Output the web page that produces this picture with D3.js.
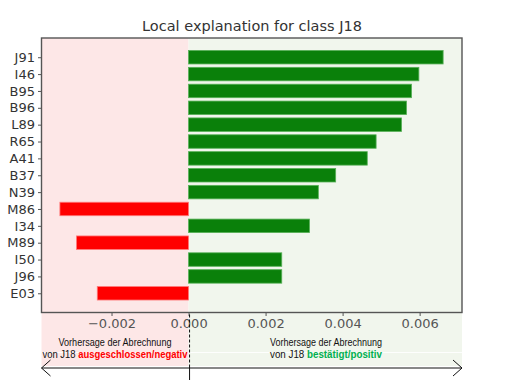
<!DOCTYPE html>
<html>
<head>
<meta charset="utf-8">
<script src="https://cdn.jsdelivr.net/npm/d3@7"></script>
<style>
  html, body { margin: 0; padding: 0; background: #ffffff; }
  svg { display: block; }
</style>
</head>
<body>
<div id="chart"></div>
<script>
// ---- data ----
const features = ["J91","I46","B95","B96","L89","R65","A41","B37","N39","M86","I34","M89","I50","J96","E03"];
const values   = [0.00661,0.00598,0.00579,0.00566,0.00553,0.00487,0.00464,0.00382,0.00337,-0.00334,0.00314,-0.00291,0.00242,0.00242,-0.00237];
const xTicks   = [-0.002, 0.000, 0.002, 0.004, 0.006];
const titleText = "Local explanation for class J18";
const leftLine1 = "Vorhersage der Abrechnung";
const leftLine2a = "von J18 ";
const leftLine2b = "ausgeschlossen/negativ";
const rightLine1 = "Vorhersage der Abrechnung";
const rightLine2a = "von J18 ";
const rightLine2b = "bestätigt/positiv";

// ---- layout ----
const W = 505, H = 380;
const frame = {left: 41.5, right: 462, top: 38, bottom: 312.5};

const svg = d3.select("#chart").append("svg")
  .attr("width", W).attr("height", H)
  .attr("font-family", "DejaVu Sans, sans-serif");

const x = d3.scaleLinear().domain([-0.003818, 0.0071]).range([frame.left, frame.right]);
const y = d3.scaleLinear().domain([-1.14, features.length - 1 + 1.14]).range([frame.top, frame.bottom]);

const x0 = x(0);
const bgBottom = 366;

// background regions
svg.append("rect").attr("x", frame.left).attr("y", frame.top)
  .attr("width", x0 - frame.left).attr("height", bgBottom - frame.top)
  .attr("fill", "#fde7e7");
svg.append("rect").attr("x", x0).attr("y", frame.top)
  .attr("width", frame.right - x0).attr("height", bgBottom - frame.top)
  .attr("fill", "#f1f6ed");
svg.append("line").attr("x1", frame.left).attr("x2", frame.right)
  .attr("y1", 352.5).attr("y2", 352.5)
  .attr("stroke", "#ffffff").attr("stroke-width", 1).attr("opacity", 0.9);

// bars
svg.append("g").selectAll("rect").data(values).join("rect")
  .attr("x", d => Math.min(x(0), x(d)))
  .attr("width", d => Math.abs(x(d) - x(0)))
  .attr("y", (d, i) => y(i - 0.4))
  .attr("height", (d, i) => y(i + 0.4) - y(i - 0.4))
  .attr("fill", d => d >= 0 ? "#0a800a" : "#ff0000")
  .attr("stroke", d => d >= 0 ? "#58b058" : "#ff7a7a")
  .attr("stroke-width", 0.8);

// frame
svg.append("rect").attr("x", frame.left).attr("y", frame.top)
  .attr("width", frame.right - frame.left).attr("height", frame.bottom - frame.top)
  .attr("fill", "none").attr("stroke", "#555").attr("stroke-width", 1.4);

// y axis
const yAxis = svg.append("g").attr("transform", `translate(${frame.left},0)`)
  .call(d3.axisLeft(y).tickValues(d3.range(features.length)).tickFormat(i => features[i]).tickSize(3.5).tickPadding(3));
yAxis.select(".domain").remove();
yAxis.selectAll("line").attr("stroke", "#555");
yAxis.selectAll("text").attr("font-size", 13).attr("fill", "#333").attr("font-family", "DejaVu Sans, sans-serif");

// x axis
const xAxis = svg.append("g").attr("transform", `translate(0,${frame.bottom})`)
  .call(d3.axisBottom(x).tickValues(xTicks).tickFormat(d3.format(".3f")).tickSize(3.5).tickPadding(3));
xAxis.select(".domain").remove();
xAxis.selectAll("line").attr("stroke", "#555");
xAxis.selectAll("text").attr("font-size", 13).attr("fill", "#555").attr("font-family", "DejaVu Sans, sans-serif");

// title
svg.append("text").attr("x", 252).attr("y", 31)
  .attr("text-anchor", "middle").attr("font-size", 14.5).attr("fill", "#333")
  .text(titleText);

// annotations
const annFont = "Liberation Sans, Arial, sans-serif";
function annot(cx, l1, l2a, l2b, color, w1, w2) {
  svg.append("text").attr("x", cx).attr("y", 345.5).attr("text-anchor", "middle")
    .attr("font-family", annFont).attr("font-size", 10.3).attr("fill", "#111")
    .attr("textLength", w1).attr("lengthAdjust", "spacingAndGlyphs")
    .text(l1);
  const t = svg.append("text").attr("x", cx).attr("y", 357.8).attr("text-anchor", "middle")
    .attr("font-family", annFont).attr("font-size", 10.3).attr("fill", "#111")
    .attr("textLength", w2).attr("lengthAdjust", "spacingAndGlyphs");
  t.append("tspan").text(l2a);
  t.append("tspan").attr("font-weight", "bold").attr("fill", color).text(l2b);
}
annot(115, leftLine1, leftLine2a, leftLine2b, "#ff0000", 113, 145);
annot(326, rightLine1, rightLine2a, rightLine2b, "#00b050", 112, 112);

// dashed divider and arrow
svg.append("line").attr("x1", x0 + 1).attr("x2", x0 + 1).attr("y1", frame.bottom + 2).attr("y2", 367)
  .attr("stroke", "#111").attr("stroke-width", 1).attr("stroke-dasharray", "3,2");
svg.append("line").attr("x1", x0 + 1).attr("x2", x0 + 1).attr("y1", 367).attr("y2", H)
  .attr("stroke", "#111").attr("stroke-width", 1);

const ay = 368;
svg.append("line").attr("x1", frame.left).attr("x2", frame.right).attr("y1", ay).attr("y2", ay)
  .attr("stroke", "#111").attr("stroke-width", 1);
svg.append("path")
  .attr("d", `M${frame.left + 9},${ay - 8} L${frame.left},${ay} L${frame.left + 9},${ay + 8}`)
  .attr("fill", "none").attr("stroke", "#111").attr("stroke-width", 1);
svg.append("path")
  .attr("d", `M${frame.right - 9},${ay - 8} L${frame.right},${ay} L${frame.right - 9},${ay + 8}`)
  .attr("fill", "none").attr("stroke", "#111").attr("stroke-width", 1);
</script>
</body>
</html>
